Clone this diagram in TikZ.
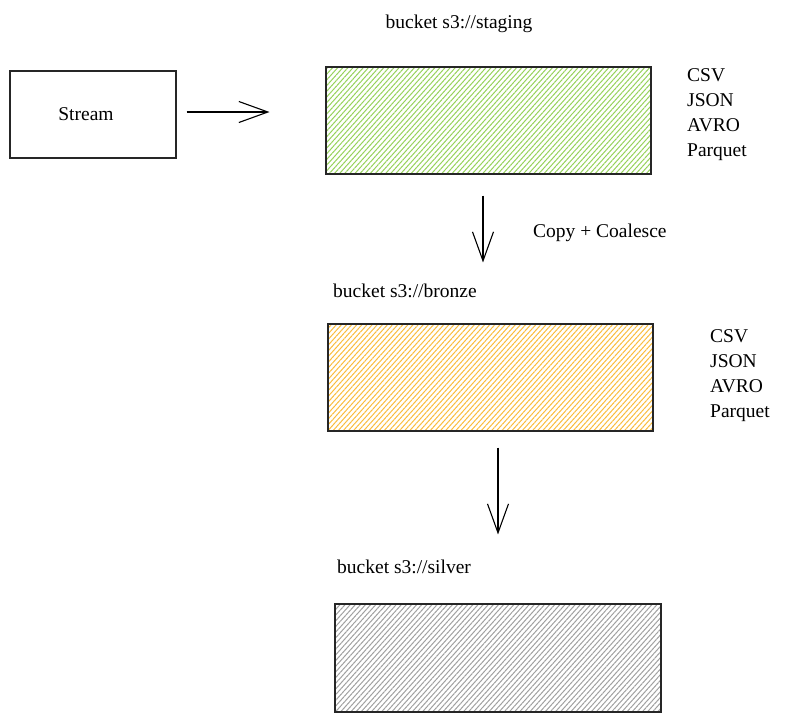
\documentclass[tikz,border=0pt]{standalone}
\usepackage{fontspec}
\setmainfont{Liberation Serif}
\usetikzlibrary{positioning,arrows.meta,patterns.meta}
\definecolor{stagegreen}{RGB}{150,210,90}
\definecolor{bronzeorange}{RGB}{250,188,60}
\definecolor{silvergrey}{RGB}{160,160,160}
\tikzset{
  bucket/.style={draw=black!85, line width=1.1pt, inner sep=0pt, minimum width=325pt, minimum height=107pt},
  hatch/.style={pattern={Lines[angle=48,distance=3.8pt,line width=1pt]}, pattern color=#1},
  flow/.style={line width=1.1pt, -{Straight Barb[length=29pt,width=21pt,line width=1.1pt]}},
  txt/.style={font=\fontsize{19.5}{24}\selectfont, inner sep=0pt}
}
\begin{document}
\begin{tikzpicture}[x=1pt,y=-1pt]
\useasboundingbox (0,0) rectangle (796,721);
\node[bucket, minimum width=166pt, minimum height=87pt] (stream) at (93,114.5) {};
\node[txt, anchor=base] (streamtxt) at (86,120) {Stream};
\node[bucket, hatch=stagegreen] (staging) at (488.5,120.5) {};
\node[bucket, hatch=bronzeorange] (bronze) at (490.5,377.5) {};
\node[bucket, hatch=silvergrey, minimum width=326pt, minimum height=108pt] (silver) at (498,658) {};
\node[txt, anchor=base] (stagingname) at (459,28) {bucket s3://staging};
\node[txt, anchor=base west] (bronzename) at (333,297) {bucket s3://bronze};
\node[txt, anchor=base west] (silvername) at (337,573) {bucket s3://silver};
\node[txt, anchor=base west] (copytxt) at (533,237) {Copy + Coalesce};
\foreach \fmt [count=\i] in {CSV,JSON,AVRO,Parquet}{
  \node[txt, anchor=base west] (stagingfmt\i) at (687,{56+25*\i}) {\fmt};
  \node[txt, anchor=base west] (bronzefmt\i) at (710,{317+25*\i}) {\fmt};
}
\draw[flow, shorten <=10pt, shorten >=56pt] ([yshift=2.5pt]stream.east) -- ([yshift=8.5pt]staging.west);
\draw[flow, shorten <=21pt, shorten >=61pt] ([xshift=-5.5pt]staging.south) -- ([xshift=-7.5pt]bronze.north);
\draw[flow, shorten <=16pt, shorten >=69pt] ([xshift=7.5pt]bronze.south) -- (silver.north);
\end{tikzpicture}
\end{document}
